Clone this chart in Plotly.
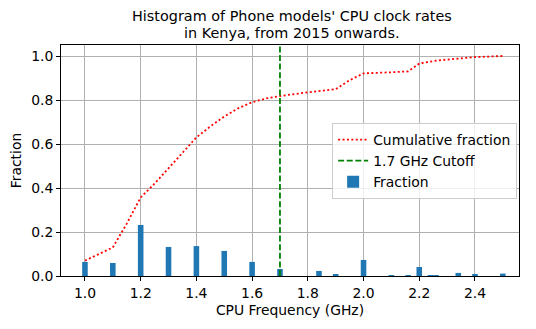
import plotly.graph_objects as go

# bar heights (fraction of phone models per clock rate)
freq_ghz = [1.0, 1.1, 1.2, 1.3, 1.4, 1.5, 1.6, 1.7, 1.84, 1.9, 2.0, 2.1, 2.16, 2.2,
            2.24, 2.26, 2.34, 2.4, 2.5]
fraction = [0.064, 0.059, 0.232, 0.132, 0.136, 0.114, 0.064, 0.032, 0.023, 0.009,
            0.073, 0.004, 0.004, 0.041, 0.004, 0.004, 0.014, 0.005, 0.011]

# cumulative curve
cum_x = [1.0, 1.1, 1.15, 1.2, 1.25, 1.3, 1.35, 1.4, 1.45, 1.5, 1.55, 1.6, 1.65, 1.7,
         1.8, 1.9, 1.95, 2.0, 2.1, 2.16, 2.2, 2.26, 2.32, 2.4, 2.5]
cum_y = [0.07, 0.13, 0.238, 0.357, 0.42, 0.49, 0.556, 0.63, 0.68, 0.725, 0.762, 0.79,
         0.807, 0.818, 0.835, 0.849, 0.89, 0.921, 0.926, 0.93, 0.966, 0.979, 0.986,
         0.995, 1.0]

cutoff = 1.7
x_ticks = [1.0, 1.2, 1.4, 1.6, 1.8, 2.0, 2.2, 2.4]
y_ticks = [0.0, 0.2, 0.4, 0.6, 0.8, 1.0]
title_lines = ["Histogram of Phone models' CPU clock rates", "in Kenya, from 2015 onwards."]

FONT = "DejaVu Sans"
FS = 13.9

fig = go.Figure()
fig.add_trace(go.Scatter(
    x=cum_x, y=cum_y, mode="lines", name="Cumulative fraction",
    line=dict(color="red", width=1.8, dash="2px,2.4px"),
))
fig.add_trace(go.Scatter(
    x=[cutoff, cutoff], y=[0, 1.05], mode="lines", name="1.7 GHz Cutoff",
    line=dict(color="green", width=1.8, dash="6px,2.6px"),
))
fig.add_trace(go.Bar(
    x=freq_ghz, y=fraction, name="Fraction", width=0.02,
    marker=dict(color="#1f77b4", line=dict(width=0)),
))

axis_common = dict(
    showline=True, linecolor="black", linewidth=1, mirror=True,
    ticks="outside", ticklen=4, tickcolor="black",
    showgrid=True, gridcolor="#b0b0b0", gridwidth=0.8,
    zeroline=False, automargin=False,
    tickfont=dict(family=FONT, size=FS, color="black"),
)

# the page body adds an 8px offset, so the figure is 8px smaller than the window
fig.update_layout(
    width=528, height=321,
    margin=dict(l=53, r=17, t=37, b=53),
    plot_bgcolor="white", paper_bgcolor="white",
    font=dict(family=FONT, color="black"),
    xaxis=dict(range=[0.914, 2.558], tickvals=x_ticks, tickformat=".1f",
               title=dict(text="CPU Frequency (GHz)", font=dict(size=FS), standoff=5),
               **axis_common),
    yaxis=dict(range=[0, 1.05], tickvals=y_ticks, tickformat=".1f",
               title=dict(text="Fraction", font=dict(size=FS), standoff=7),
               **axis_common),
    legend=dict(
        x=0.592, y=0.662, xanchor="left", yanchor="top",
        bgcolor="rgba(255,255,255,0.8)", bordercolor="#cccccc", borderwidth=1,
        font=dict(family=FONT, size=FS), traceorder="normal",
        itemwidth=30,
    ),
    showlegend=True,
)

for text, ypos in zip(title_lines, [1.125, 1.054]):
    fig.add_annotation(
        text=text, xref="paper", yref="paper", x=0.505, y=ypos,
        xanchor="center", yanchor="middle", showarrow=False,
        font=dict(family=FONT, size=14.4, color="black"),
    )

fig.write_html("out.html")
